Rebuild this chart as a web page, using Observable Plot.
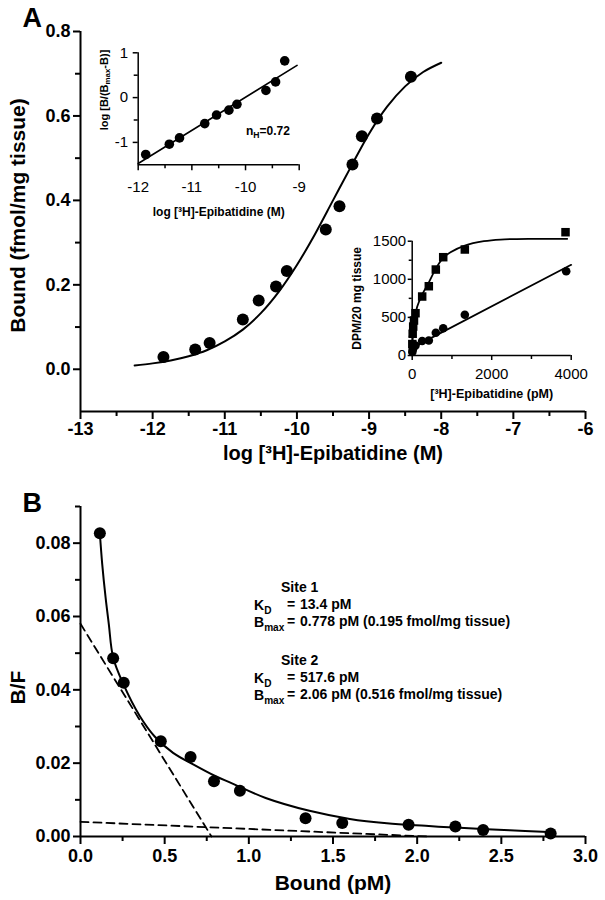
<!DOCTYPE html>
<html><head><meta charset="utf-8">
<script src="https://cdn.jsdelivr.net/npm/d3@7"></script>
<script src="https://cdn.jsdelivr.net/npm/@observablehq/plot@0.6"></script>
<style>
body{margin:0;background:#fff;}
#wrap{position:relative;width:605px;height:900px;font-family:"Liberation Sans",Arial,Helvetica,sans-serif;color:#000;}
#wrap svg{position:absolute;}
.lab{position:absolute;font-weight:bold;white-space:nowrap;line-height:1;}
.lab sub{font-size:0.72em;vertical-align:-0.35em;line-height:0;}
</style></head><body><div id="wrap"></div>
<script>
// ---------- Panel A: saturation (log scale) ----------
const mainLogConc = [-11.85,-11.41,-11.21,-10.75,-10.53,-10.29,-10.14,-9.60,-9.41,-9.23,-9.10,-8.89,-8.42];
const mainBound   = [0.029,0.047,0.062,0.118,0.163,0.196,0.233,0.331,0.386,0.485,0.552,0.594,0.693];
const fitLogConcA = [-12.25,-12.0,-11.75,-11.5,-11.25,-11.0,-10.75,-10.5,-10.25,-10.0,-9.75,-9.5,-9.25,-9.0,-8.75,-8.5,-8.25,-8.0];
const fitBoundA   = [0.009,0.014,0.021,0.031,0.045,0.066,0.094,0.133,0.184,0.247,0.320,0.400,0.480,0.558,0.622,0.670,0.704,0.726];
const xTicksA = [-13,-12,-11,-10,-9,-8,-7,-6];
const xMinorA = [-12.5,-11.5,-10.5,-9.5,-8.5,-7.5,-6.5];
const yTicksA = [0,0.2,0.4,0.6,0.8];
const yMinorA = [0.1,0.3,0.5,0.7];

// ---------- Inset 1: Hill plot ----------
const hillLogConc  = [-11.86,-11.42,-11.23,-10.76,-10.54,-10.31,-10.16,-9.62,-9.44,-9.27];
const hillLogRatio = [-1.27,-1.04,-0.90,-0.58,-0.39,-0.28,-0.15,0.16,0.35,0.82];
const hillFitX = [-12,-9.04];
const hillFitY = [-1.47,0.72];
const xTicksH = [-12,-11,-10,-9];
const xMinorH = [-11.5,-10.5,-9.5];
const yTicksH = [-1,0,1];
const yMinorH = [-0.5,0.5];

// ---------- Inset 2: DPM vs concentration ----------
const sqConc  = [3,12,25,45,83,251,418,594,780,1324,3857];
const sqDPM   = [150,285,380,459,555,774,909,1128,1290,1391,1618];
const ciConc  = [3,12,25,45,83,251,418,594,780,1324,3874];
const ciDPM   = [45,75,100,120,131,190,197,298,358,534,1106];
const sqFitConc = [0,25,60,125,251,419,595,779,964,1325,1803,2222,3061,3900];
const sqFitDPM  = [120,300,480,640,800,960,1140,1280,1356,1443,1500,1522,1531,1531];
const ciFitConc = [0,4000];
const ciFitDPM  = [100,1190];
const xTicksS = [0,2000,4000];
const xMinorS = [1000,3000];
const yTicksS = [0,500,1000,1500];
const yMinorS = [250,750,1250];

// ---------- Panel B: Scatchard ----------
const scBound = [0.115,0.194,0.257,0.477,0.654,0.793,0.947,1.337,1.555,1.949,2.227,2.392,2.793];
const scBF    = [0.0827,0.0486,0.0419,0.0260,0.0217,0.0151,0.0125,0.0050,0.0037,0.0032,0.0027,0.0018,0.0008];
const scFitBound = [0.115,0.129,0.149,0.168,0.194,0.254,0.35,0.442,0.55,0.672,0.8,0.9,1.1,1.36,1.6,1.82,2.05,2.28,2.55,2.78];
const scFitBF    = [0.0827,0.0743,0.0652,0.058,0.0488,0.0416,0.0330,0.0272,0.0228,0.0196,0.0165,0.0145,0.0105,0.0070,0.0048,0.0036,0.0029,0.0023,0.0017,0.0012];
const site1Bound = [0,0.778];
const site1BF    = [0.058,0];
const site2Bound = [0,2.06];
const site2BF    = [0.004,0];
const xTicksB = [0,0.5,1,1.5,2,2.5,3];
const xMinorB = [0.25,0.75,1.25,1.75,2.25,2.75];
const yTicksB = [0,0.02,0.04,0.06,0.08];
const yMinorB = [0.01,0.03,0.05,0.07,0.09];

const siteTitles = ["Site 1","Site 2"];
const kdValues   = ["13.4 pM","517.6 pM"];
const bmaxValues = ["0.778 pM (0.195 fmol/mg tissue)","2.06 pM (0.516 fmol/mg tissue)"];

const FONT = '"Liberation Sans", Arial, Helvetica, sans-serif';
const wrap = document.getElementById("wrap");
const hy = d => String(d); // hyphen-minus labels like the original

function place(svg, left, top) {
  svg.style.left = left + "px";
  svg.style.top = top + "px";
  wrap.appendChild(svg);
}
function lab(html, left, top, size, rotate) {
  const d = document.createElement("div");
  d.className = "lab";
  d.innerHTML = html;
  d.style.left = left + "px";
  d.style.top = top + "px";
  d.style.fontSize = size + "px";
  d.style.transform = rotate ? "translate(-50%,-50%) rotate(-90deg)" : "translateY(-50%)";
  wrap.appendChild(d);
}
const zip = (a, b) => a.map((v, i) => ({x: v, y: b[i]}));
const T = {textAnchor: "middle", lineAnchor: "middle", fontWeight: "bold"};

// ---------- Panel A main ----------
const A = Plot.plot({
  width: 605, height: 470,
  marginLeft: 80, marginRight: 20, marginTop: 31, marginBottom: 59,
  style: {background: "transparent", fontFamily: FONT, fontWeight: "bold", overflow: "visible"},
  x: {domain: [-13, -6]},
  y: {domain: [-0.1, 0.8]},
  marks: [
    Plot.axisX(xTicksA, {tickSize: 8, tickPadding: 3, tickFormat: hy, fontSize: 18, fontWeight: "bold", strokeWidth: 2, label: null}),
    Plot.axisX(xMinorA, {tickSize: 5, tickFormat: () => "", strokeWidth: 2, label: null}),
    Plot.axisY(yTicksA, {tickSize: 7, tickPadding: 3, tickFormat: d3.format(".1f"), fontSize: 18, fontWeight: "bold", strokeWidth: 2, label: null}),
    Plot.axisY(yMinorA, {tickSize: 5, tickFormat: () => "", strokeWidth: 2, label: null}),
    Plot.ruleY([-0.1], {strokeWidth: 2}),
    Plot.ruleX([-13], {strokeWidth: 2}),
    Plot.line(zip(fitLogConcA, fitBoundA), {x: "x", y: "y", curve: "catmull-rom", strokeWidth: 2}),
    Plot.dot(zip(mainLogConc, mainBound), {x: "x", y: "y", r: 6, fill: "black", stroke: "none"}),
    Plot.text(["log [³H]-Epibatidine (M)"], {...T, text: d => d, frameAnchor: "bottom", dy: 42, fontSize: 20}),
    Plot.text(["Bound (fmol/mg tissue)"], {...T, text: d => d, frameAnchor: "left", rotate: -90, dx: -62, dy: -6, fontSize: 21}),
    Plot.text(["A"], {text: d => d, frameAnchor: "top-left", textAnchor: "start", lineAnchor: "top", dx: -58, dy: -24, fontSize: 27, fontWeight: "bold"})
  ]
});
place(A, 0, 0);

// ---------- Inset 1 ----------
const H = Plot.plot({
  width: 225, height: 190,
  marginLeft: 47.7, marginRight: 16.3, marginTop: 17.3, marginBottom: 60.7,
  style: {background: "transparent", fontFamily: FONT, overflow: "visible"},
  x: {domain: [-12, -9]},
  y: {domain: [-1.5, 1]},
  marks: [
    Plot.axisX(xTicksH, {tickSize: 6, tickPadding: 11, tickFormat: hy, fontSize: 15, strokeWidth: 1.5, label: null}),
    Plot.axisX(xMinorH, {tickSize: 4, tickFormat: () => "", strokeWidth: 1.5, label: null}),
    Plot.axisY(yTicksH, {tickSize: 5, tickPadding: 5, tickFormat: hy, fontSize: 15, strokeWidth: 1.5, label: null}),
    Plot.axisY(yMinorH, {tickSize: 4, tickFormat: () => "", strokeWidth: 1.5, label: null}),
    Plot.ruleY([-1.5], {strokeWidth: 1.5}),
    Plot.ruleX([-12], {strokeWidth: 1.5}),
    Plot.line(zip(hillFitX, hillFitY), {x: "x", y: "y", strokeWidth: 1.6}),
    Plot.dot(zip(hillLogConc, hillLogRatio), {x: "x", y: "y", r: 4.8, fill: "black", stroke: "none"}),
    Plot.text(["log [³H]-Epibatidine (M)"], {...T, text: d => d, frameAnchor: "bottom", dy: 47, fontSize: 12})
  ]
});
place(H, 90, 35);
lab("log [B/(B<sub>max</sub>-B)]", 104, 90, 11, true);
lab("n<sub>H</sub>=0.72", 246, 131, 12, false);

// ---------- Inset 2 ----------
const S = Plot.plot({
  width: 265, height: 180,
  marginLeft: 71.7, marginRight: 34.3, marginTop: 15.7, marginBottom: 50,
  style: {background: "transparent", fontFamily: FONT, overflow: "visible"},
  x: {domain: [0, 4000]},
  y: {domain: [0, 1500]},
  marks: [
    Plot.axisX(xTicksS, {tickSize: 5, tickPadding: 8, tickFormat: hy, fontSize: 15, strokeWidth: 1.5, label: null}),
    Plot.axisX(xMinorS, {tickSize: 4, tickFormat: () => "", strokeWidth: 1.5, label: null}),
    Plot.axisY(yTicksS, {tickSize: 4, tickPadding: 2, tickFormat: hy, fontSize: 15, strokeWidth: 1.5, label: null}),
    Plot.axisY(yMinorS, {tickSize: 3, tickFormat: () => "", strokeWidth: 1.5, label: null}),
    Plot.ruleY([0], {strokeWidth: 1.5}),
    Plot.ruleX([0], {strokeWidth: 1.5}),
    Plot.line(zip(sqFitConc, sqFitDPM), {x: "x", y: "y", curve: "catmull-rom", strokeWidth: 1.8}),
    Plot.line(zip(ciFitConc, ciFitDPM), {x: "x", y: "y", strokeWidth: 1.8}),
    Plot.dot(zip(sqConc, sqDPM), {x: "x", y: "y", r: 4.8, symbol: "square", fill: "black", stroke: "none"}),
    Plot.dot(zip(ciConc, ciDPM), {x: "x", y: "y", r: 4.3, fill: "black", stroke: "none"}),
    Plot.text(["[³H]-Epibatidine (pM)"], {...T, text: d => d, frameAnchor: "bottom", dy: 38, fontSize: 12.5}),
    Plot.text(["DPM/20 mg tissue"], {...T, text: d => d, frameAnchor: "left", rotate: -90, dx: -55, fontSize: 12})
  ]
});
place(S, 340, 225);

// ---------- Panel B ----------
const B = Plot.plot({
  width: 605, height: 430,
  marginLeft: 80, marginRight: 20, marginTop: 36, marginBottom: 64,
  style: {background: "transparent", fontFamily: FONT, fontWeight: "bold", overflow: "visible"},
  x: {domain: [0, 3]},
  y: {domain: [0, 0.09]},
  marks: [
    Plot.axisX(xTicksB, {tickSize: 8, tickPadding: 5, tickFormat: d3.format(".1f"), fontSize: 18, fontWeight: "bold", strokeWidth: 2, label: null}),
    Plot.axisX(xMinorB, {tickSize: 5, tickFormat: () => "", strokeWidth: 2, label: null}),
    Plot.axisY(yTicksB, {tickSize: 7, tickPadding: 3, tickFormat: d3.format(".2f"), fontSize: 18, fontWeight: "bold", strokeWidth: 2, label: null}),
    Plot.axisY(yMinorB, {tickSize: 5, tickFormat: () => "", strokeWidth: 2, label: null}),
    Plot.ruleY([0], {strokeWidth: 2}),
    Plot.ruleX([0], {strokeWidth: 2}),
    Plot.line(zip(site1Bound, site1BF), {x: "x", y: "y", strokeWidth: 1.8, strokeDasharray: "8,5"}),
    Plot.line(zip(site2Bound, site2BF), {x: "x", y: "y", strokeWidth: 1.8, strokeDasharray: "8,5"}),
    Plot.line(zip(scFitBound, scFitBF), {x: "x", y: "y", curve: "catmull-rom", strokeWidth: 2}),
    Plot.dot(zip(scBound, scBF), {x: "x", y: "y", r: 6, fill: "black", stroke: "none"}),
    Plot.text(["Bound (pM)"], {...T, text: d => d, frameAnchor: "bottom", dy: 47, fontSize: 21}),
    Plot.text(["B/F"], {...T, text: d => d, frameAnchor: "left", rotate: -90, dx: -62, dy: 16, fontSize: 21}),
    Plot.text(["B"], {text: d => d, frameAnchor: "top-left", textAnchor: "start", lineAnchor: "top", dx: -58, dy: -14, fontSize: 27, fontWeight: "bold"})
  ]
});
place(B, 0, 470);

// annotation block (panel B)
const rowTops = [587, 660];
siteTitles.forEach((t, i) => {
  const y0 = rowTops[i];
  lab(t, 281, y0, 14);
  lab("K<sub>D</sub>", 254, y0 + 18, 14);
  lab("=", 287, y0 + 17, 14);
  lab(kdValues[i], 300, y0 + 17, 14);
  lab("B<sub>max</sub>", 254, y0 + 35, 14);
  lab("=", 287, y0 + 34, 14);
  lab(bmaxValues[i], 300, y0 + 34, 14);
});
</script></body></html>
